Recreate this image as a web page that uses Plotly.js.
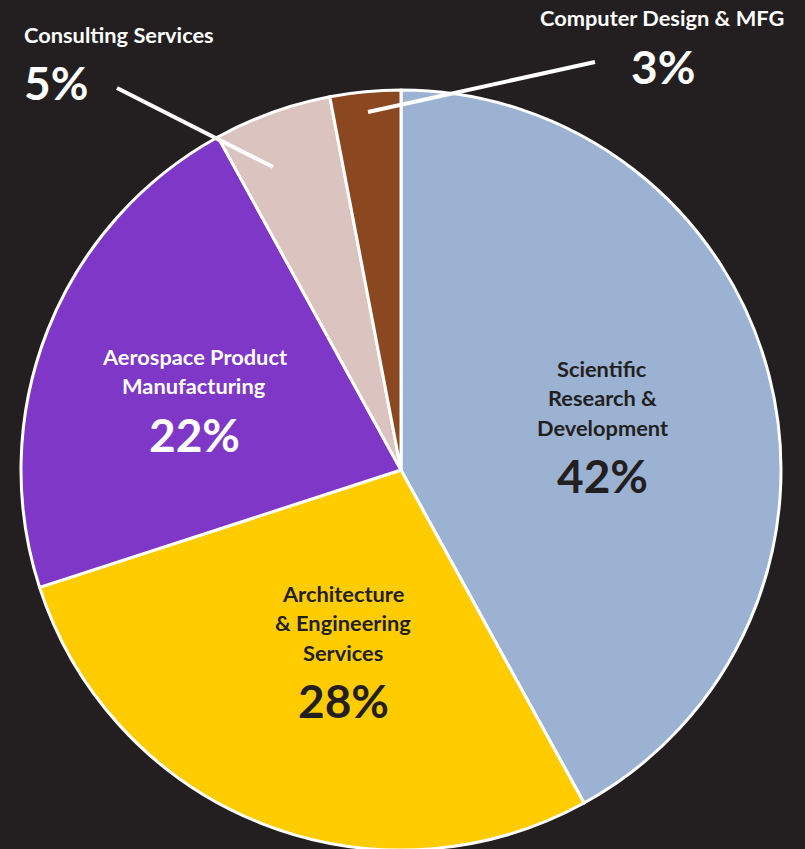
<!DOCTYPE html>
<html>
<head>
<meta charset="utf-8">
<script src="https://cdn.plot.ly/plotly-3.0.1.min.js"></script>
<style>
html,body{margin:0;padding:0;background:#231F20;overflow:hidden;}
#chart{width:805px;height:860px;}
</style>
</head>
<body>
<div id="chart"></div>
<script>
// Data
const categories = ["Scientific Research & Development", "Architecture & Engineering Services", "Aerospace Product Manufacturing", "Consulting Services", "Computer Design & MFG"];
const shares = [42, 28, 22, 5, 3];
const labelLines = [
  ["Scientific", "Research &", "Development"],
  ["Architecture", "& Engineering", "Services"],
  ["Aerospace Product", "Manufacturing"],
  ["Consulting Services"],
  ["Computer Design & MFG"]
];
const pctLabels = ["42%", "28%", "22%", "5%", "3%"];

// Styles
const colors = ["#9CB2D2", "#FFCC00", "#7E37C6", "#DBC3BF", "#8B4720"];
const textColors = ["#231F20", "#231F20", "#FFFFFF", "#FFFFFF", "#FFFFFF"];
const W = 805, H = 860;
// label placement (pixels): [x, first line y, pct y, xanchor]
const place = [
  [602, 368, 475, "center"],
  [343, 593, 700, "center"],
  [194, 356, 434, "center"],
  [22, 35, 82, "left"],
  [786, 18, 66, "right"]
];
const pctPlace = [[602, "center"], [343, "center"], [194, "center"], [22, "left"], [663, "center"]];
const lineGap = 29.5;
const font = "Lato, 'Open Sans', sans-serif";

const px = x => x / W, py = y => 1 - y / H;

const annotations = [];
categories.forEach((c, i) => {
  const [x, y0, yp, xa] = place[i];
  labelLines[i].forEach((t, k) => {
    annotations.push({
      text: "<b>" + t + "</b>", xref: "paper", yref: "paper",
      x: px(x), y: py(y0 + k * lineGap), xanchor: xa, yanchor: "middle",
      showarrow: false, font: {family: font, size: 21.8, color: textColors[i]}
    });
  });
  annotations.push({
    text: "<b>" + pctLabels[i] + "</b>", xref: "paper", yref: "paper",
    x: px(pctPlace[i][0]), y: py(yp), xanchor: pctPlace[i][1], yanchor: "middle",
    showarrow: false, font: {family: font, size: 46, color: textColors[i]}
  });
});

const shapes = [
  {type: "line", xref: "paper", yref: "paper", x0: px(117), y0: py(88), x1: px(273), y1: py(167), line: {color: "#FFFFFF", width: 4}},
  {type: "line", xref: "paper", yref: "paper", x0: px(595), y0: py(62), x1: px(368), y1: py(112), line: {color: "#FFFFFF", width: 4}}
];

const trace = {
  type: "pie",
  labels: categories,
  values: shares,
  sort: false,
  direction: "clockwise",
  rotation: 0,
  textinfo: "none",
  hoverinfo: "label+percent",
  marker: {colors: colors, line: {color: "#FFFFFF", width: 3}},
  domain: {x: [21 / W, 781 / W], y: [(H - 850) / H, (H - 90) / H]},
  showlegend: false
};

Plotly.newPlot("chart", [trace], {
  width: W, height: H,
  margin: {l: 0, r: 0, t: 0, b: 0},
  paper_bgcolor: "#231F20",
  plot_bgcolor: "#231F20",
  showlegend: false,
  annotations: annotations,
  shapes: shapes
}, {displayModeBar: false, staticPlot: true});
</script>
</body>
</html>
